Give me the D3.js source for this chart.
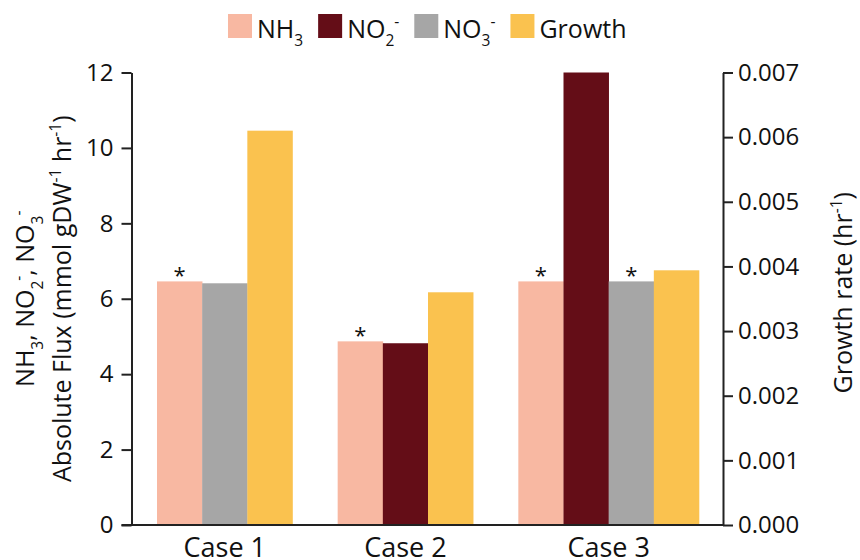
<!DOCTYPE html>
<html>
<head>
<meta charset="utf-8">
<script src="https://cdn.jsdelivr.net/npm/d3@7"></script>
<style>
  body { margin: 0; background: #fff; }
  svg text { font-family: "Open Sans", "Noto Sans", sans-serif; fill: #111; }
</style>
</head>
<body>
<svg id="chart" width="860" height="560"></svg>
<script>
// ---- data ----
const cases = ["Case 1", "Case 2", "Case 3"];
const seriesKeys = ["NH3", "NO2", "NO3", "Growth"];
const nh3Flux = [6.46, 4.87, 6.46];      // mmol gDW-1 hr-1
const no2Flux = [null, 4.82, 12.0];
const no3Flux = [6.41, null, 6.46];
const growthRate = [0.0061, 0.0036, 0.00394]; // hr-1
const nh3Star = [true, true, true];
const no2Star = [false, false, false];
const no3Star = [false, false, true];
const growthStar = [false, false, false];
const fluxTicks = [0, 2, 4, 6, 8, 10, 12];
const growthTicks = [0, 0.001, 0.002, 0.003, 0.004, 0.005, 0.006, 0.007];

const seriesValues = { NH3: nh3Flux, NO2: no2Flux, NO3: no3Flux, Growth: growthRate };
const seriesStars = { NH3: nh3Star, NO2: no2Star, NO3: no3Star, Growth: growthStar };
const colors = { NH3: "#F8B8A2", NO2: "#640D17", NO3: "#A6A6A6", Growth: "#FAC24F" };
// label pieces: [text, "sub" | "sup" | undefined]
const seriesLabels = {
  NH3: [["NH"], ["3", "sub"]],
  NO2: [["NO"], ["2", "sub"], ["-", "sup"]],
  NO3: [["NO"], ["3", "sub"], ["-", "sup"]],
  Growth: [["Growth"]]
};

// ---- layout ----
const svg = d3.select("#chart");
const axisLeftX = 131.5, axisRightX = 723;
const yTop = 72.5, yBottom = 525;

const x = d3.scaleBand().domain(cases).range([157, 699]).padding(0);
const slot = x.bandwidth() / seriesKeys.length;
const yFlux = d3.scaleLinear().domain([0, 12]).range([yBottom, yTop]);
const yGrowth = d3.scaleLinear().domain([0, 0.007]).range([yBottom, yTop]);

// writes text with sub/superscript tspans
function rich(sel, parts, size) {
  let shift = 0;
  parts.forEach(([t, kind]) => {
    const target = kind === "sub" ? size * 0.34 : kind === "sup" ? -size * 0.42 : 0;
    sel.append("tspan")
      .attr("dy", target - shift)
      .attr("font-size", kind ? size * 0.62 : size)
      .text(t);
    shift = target;
  });
}

// ---- bars ----
const bars = [];
cases.forEach((c, ci) => {
  const present = seriesKeys.filter(k => seriesValues[k][ci] != null);
  present.forEach((k, i) => {
    const v = seriesValues[k][ci];
    const scale = k === "Growth" ? yGrowth : yFlux;
    bars.push({ c, k, v, x0: x(c) + i * slot, y: scale(v), star: seriesStars[k][ci] });
  });
});

svg.append("g").selectAll("rect").data(bars).join("rect")
  .attr("x", d => d.x0)
  .attr("y", d => d.y)
  .attr("width", slot + 0.3)
  .attr("height", d => yBottom - d.y)
  .attr("fill", d => colors[d.k]);

svg.append("g").selectAll("text").data(bars.filter(d => d.star)).join("text")
  .attr("x", d => d.x0 + slot / 2)
  .attr("y", d => d.y + 2)
  .attr("text-anchor", "middle")
  .attr("font-size", 22)
  .text("*");

// ---- axes ----
function styleAxis(g) {
  g.select(".domain").attr("stroke", "#222").attr("stroke-width", 2);
  g.selectAll(".tick line").attr("stroke", "#222").attr("stroke-width", 2);
  g.selectAll(".tick text").attr("font-size", 24).attr("fill", "#111")
    .style("font-family", '"Open Sans", sans-serif');
}

svg.append("g")
  .attr("transform", `translate(${axisLeftX},0)`)
  .call(d3.axisLeft(yFlux).tickValues(fluxTicks).tickFormat(d3.format("d"))
    .tickSize(10).tickSizeOuter(0).tickPadding(8))
  .call(styleAxis);

svg.append("g")
  .attr("transform", `translate(${axisRightX},0)`)
  .call(d3.axisRight(yGrowth).tickValues(growthTicks).tickFormat(d3.format(".3f"))
    .tickSize(10).tickSizeOuter(0).tickPadding(5))
  .call(styleAxis);

// baseline
svg.append("line")
  .attr("x1", axisLeftX - 10).attr("x2", axisRightX)
  .attr("y1", yBottom).attr("y2", yBottom)
  .attr("stroke", "#222").attr("stroke-width", 2);

// category labels, centred under the bars drawn for each case
svg.append("g").selectAll("text").data(cases).join("text")
  .attr("x", c => {
    const n = bars.filter(b => b.c === c).length;
    return x(c) + n * slot / 2;
  })
  .attr("y", 557)
  .attr("text-anchor", "middle")
  .attr("font-size", 27)
  .text(c => c);

// ---- axis titles ----
const midY = (yTop + yBottom) / 2;
const t1 = svg.append("text")
  .attr("transform", `translate(34,${midY}) rotate(-90)`)
  .attr("text-anchor", "middle");
rich(t1, [["NH"], ["3", "sub"], [", NO"], ["2", "sub"], ["-", "sup"], [", NO"], ["3", "sub"], ["-", "sup"]], 25);

const t2 = svg.append("text")
  .attr("transform", `translate(71,${midY}) rotate(-90)`)
  .attr("text-anchor", "middle");
rich(t2, [["Absolute Flux (mmol gDW"], ["-1", "sup"], [" hr"], ["-1", "sup"], [")"]], 25);

const t3 = svg.append("text")
  .attr("transform", `translate(852,${midY - 6}) rotate(-90)`)
  .attr("text-anchor", "middle");
rich(t3, [["Growth rate (hr"], ["-1", "sup"], [")"]], 25);

// ---- legend ----
const legend = svg.append("g");
let lx = 0;
seriesKeys.forEach(k => {
  const item = legend.append("g").attr("transform", `translate(${lx},0)`);
  item.append("rect").attr("x", 0).attr("y", 14).attr("width", 24).attr("height", 24)
    .attr("fill", colors[k]);
  const t = item.append("text").attr("x", 29).attr("y", 37.5);
  rich(t, seriesLabels[k], 25);
  const w = t.node().getBBox().width;
  lx += 29 + w + 15;
});
const lb = legend.node().getBBox();
legend.attr("transform", `translate(${(axisLeftX + axisRightX) / 2 - lb.width / 2 - lb.x},0)`);
</script>
</body>
</html>
